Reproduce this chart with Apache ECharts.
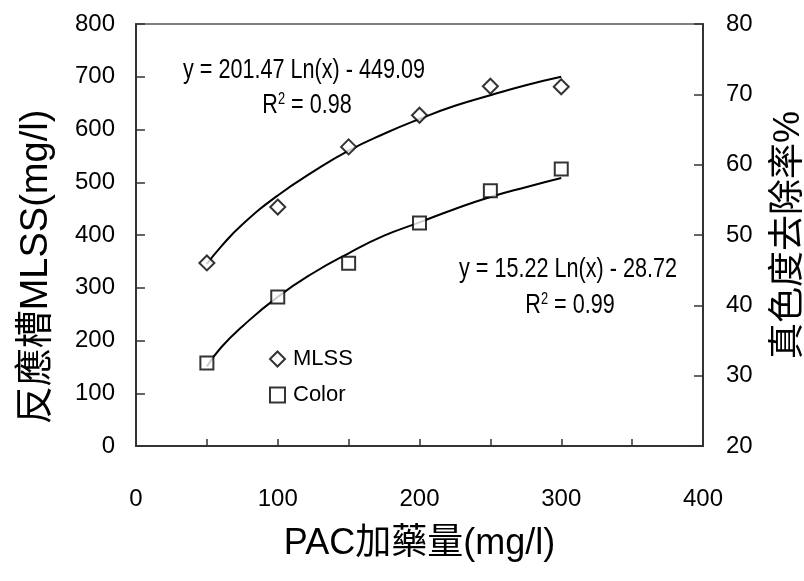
<!DOCTYPE html>
<html>
<head>
<meta charset="utf-8">
<script src="https://cdn.jsdelivr.net/npm/echarts@6/dist/echarts.min.js"></script>
<style>html,body{margin:0;padding:0;background:#fff}#c{width:804px;height:581px}</style>
</head>
<body>
<div id="c"></div>
<script>
// ---- data ----
const doses = [50, 100, 150, 200, 250, 300];
const mlss = [347, 453, 567, 627, 682, 681];
const colorRemoval = [31.8, 41.2, 46.0, 51.7, 56.3, 59.4];
const trendDoses = [50, 60, 75, 100, 125, 150, 175, 200, 225, 250, 275, 300];
const mlssTrend = [345, 378, 420, 475, 520, 560, 592, 620, 645, 665, 684, 700];
const colorTrend = [31.3, 34.0, 37.0, 41.2, 44.6, 47.4, 49.9, 51.8, 53.7, 55.4, 56.8, 58.1];
const xTicks = [0, 100, 200, 300, 400];
const eq1 = 'y = 201.47 Ln(x) - 449.09';
const r1 = '0.98';
const eq2 = 'y = 15.22 Ln(x) - 28.72';
const r2 = '0.99';

const SANS = "'Liberation Sans', Arial, 'Noto Sans CJK TC', sans-serif";
const AX = '#333333';

const chart = echarts.init(document.getElementById('c'), null, {renderer: 'canvas'});
const pair = (xs, ys) => xs.map((x, i) => [x, ys[i]]);

const symStyle = {color: '#ffffff', borderColor: '#000000', borderWidth: 2};

function eqText(x, y, text, rich) {
  return {type: 'text', x: x, y: y, scaleX: 0.8, scaleY: 1,
    style: {text: text, font: "27px " + SANS, fill: '#000', align: 'center', verticalAlign: 'middle', rich: rich}};
}
const supRich = {s: {fontSize: 16, fontFamily: SANS, verticalAlign: 'top', padding: [0, 0, 13, 0]}};

chart.setOption({
  animation: false,
  backgroundColor: '#ffffff',
  grid: {left: 136, right: 101, top: 24, bottom: 135, outerBoundsMode: 'none', containLabel: false,
    show: true, borderColor: '#7f7f7f', borderWidth: 2, backgroundColor: 'transparent'},
  legend: {
    data: ['MLSS', 'Color'],
    orient: 'vertical', left: 264, top: 343,
    itemWidth: 15, itemHeight: 15, itemGap: 14,
    textStyle: {fontFamily: SANS, fontSize: 22, color: '#000', padding: [0, 0, 0, 3]}
  },
  xAxis: {
    type: 'value', min: 0, max: 400, interval: 50,
    name: 'PAC加藥量(mg/l)', nameLocation: 'middle', nameGap: 80,
    nameTextStyle: {fontFamily: SANS, fontSize: 36, color: '#000'},
    axisLine: {show: true, onZero: false, lineStyle: {color: AX, width: 2}},
    axisTick: {show: true, inside: true, length: 7, lineStyle: {color: AX, width: 1.5}},
    axisLabel: {margin: 41, fontFamily: SANS, fontSize: 24, color: '#000',
      formatter: v => (xTicks.indexOf(v) >= 0 ? String(v) : '')},
    splitLine: {show: false}
  },
  yAxis: [{
    type: 'value', min: 0, max: 800, interval: 100, position: 'left',
    name: '反應槽MLSS(mg/l)', nameLocation: 'middle', nameGap: 80, nameRotate: 90,
    nameTextStyle: {fontFamily: SANS, fontSize: 38, color: '#000', padding: [0, 64, 0, 0]},
    axisLine: {show: true, onZero: false, lineStyle: {color: AX, width: 2}},
    axisTick: {show: true, inside: true, length: 9, lineStyle: {color: AX, width: 1.5}},
    axisLabel: {margin: 21, fontFamily: SANS, fontSize: 24, color: '#000'},
    splitLine: {show: false}
  }, {
    type: 'value', min: 20, max: 80, interval: 10, position: 'right',
    name: '真色度去除率%', nameLocation: 'middle', nameGap: 68, nameRotate: 90,
    nameTextStyle: {fontFamily: SANS, fontSize: 36, color: '#000'},
    axisLine: {show: true, onZero: false, lineStyle: {color: AX, width: 2}},
    axisTick: {show: true, inside: true, length: 9, lineStyle: {color: AX, width: 1.5}},
    axisLabel: {margin: 23, fontFamily: SANS, fontSize: 24, color: '#000'},
    splitLine: {show: false}
  }],
  series: [{
    name: 'MLSS trend', type: 'line', yAxisIndex: 0, data: pair(trendDoses, mlssTrend),
    smooth: true, showSymbol: false, lineStyle: {color: '#000', width: 2}, z: 2
  }, {
    name: 'Color trend', type: 'line', yAxisIndex: 1, data: pair(trendDoses, colorTrend),
    smooth: true, showSymbol: false, lineStyle: {color: '#000', width: 2}, z: 2
  }, {
    name: 'MLSS', type: 'scatter', yAxisIndex: 0, data: pair(doses, mlss),
    symbol: 'diamond', symbolSize: 15, itemStyle: symStyle, z: 3
  }, {
    name: 'Color', type: 'scatter', yAxisIndex: 1, data: pair(doses, colorRemoval),
    symbol: 'rect', symbolSize: 13, itemStyle: symStyle, z: 3
  }],
  graphic: [
    eqText(304, 71, eq1),
    eqText(307, 106, 'R{s|2} = ' + r1, supRich),
    eqText(568, 270, eq2),
    eqText(570, 306, 'R{s|2} = ' + r2, supRich)
  ]
});
</script>
</body>
</html>
